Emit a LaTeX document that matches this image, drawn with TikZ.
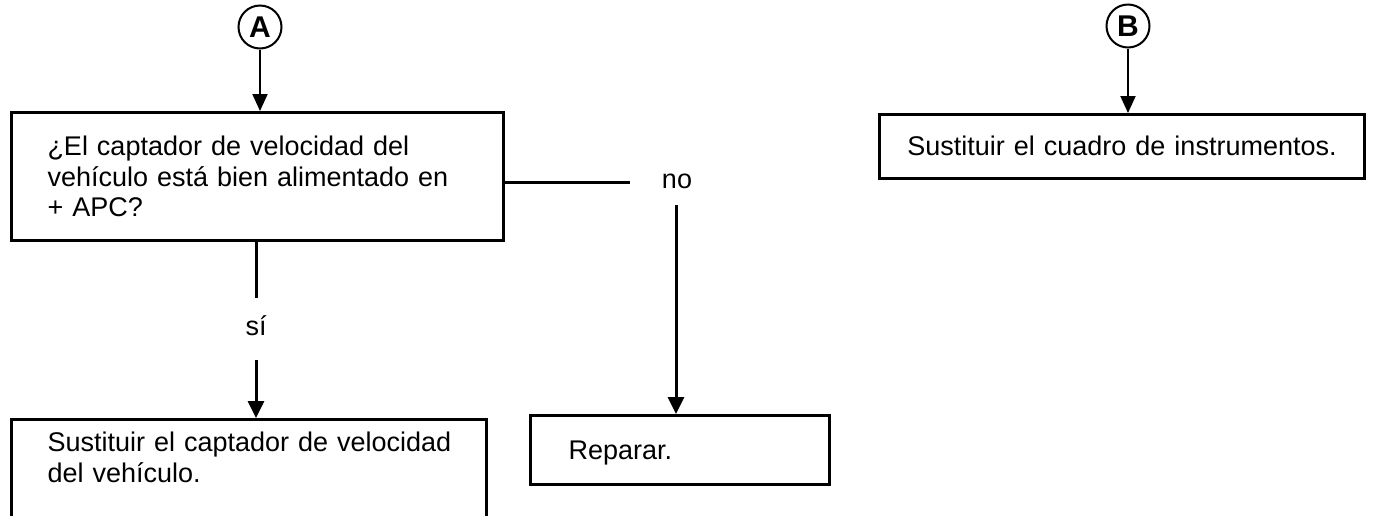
\documentclass[tikz,border=0pt]{standalone}
\usepackage{fontspec}
\setmainfont{Liberation Sans}
\usetikzlibrary{arrows.meta}
\begin{document}
\begin{tikzpicture}[x=1pt,y=-1pt,
  every node/.style={font=\fontsize{27}{30.5}\selectfont},
  box/.style={draw,line width=3pt,anchor=north west,inner ysep=0pt,inner xsep=0pt,align=left},
  conn/.style={line width=3pt},
  arr/.style={line width=3pt,-{Triangle[width=16pt,length=17pt]}},
  circarr/.style={line width=2pt,-{Triangle[width=15pt,length=17pt]}},
  circ/.style={draw,circle,line width=2pt,minimum size=43pt,inner sep=0pt,font=\fontsize{30}{30}\selectfont\bfseries},
  lab/.style={anchor=base,inner sep=0pt}]
\useasboundingbox (0,0) rectangle (1378,515);
% connector A
\node[circ] (A) at (260,27) {A};
\node[box,minimum width=492pt,text width=420pt,text height=43pt,text depth=85pt,inner xsep=36pt] (q) at (10,111)
  {\mbox{¿El captador de velocidad del}\\\mbox{vehículo está bien alimentado en}\\+ APC?};
\draw[circarr] (A.south) -- (q.north -| A);
% yes branch
\node[lab] (si) at (256,335) {sí};
\coordinate (siTop) at (256,298);
\coordinate (siBot) at (256,360);
\node[box,minimum width=475pt,text width=403pt,text height=32pt,text depth=120pt,inner xsep=36pt] (s1) at (10,418)
  {\mbox{Sustituir el captador de velocidad}\\\mbox{del vehículo.}};
\draw[conn] (q.south -| siTop) -- (siTop);
\draw[arr] (siBot) -- (s1.north -| siBot);
% no branch
\node[lab] (no) at (677,188) {no};
\coordinate (noEnd) at (630,182);
\coordinate (noBot) at (676,205);
\node[box,minimum width=299pt,text width=223pt,text height=44pt,text depth=25pt,inner xsep=38pt] (rep) at (529,414)
  {Reparar.};
\draw[conn] (q.east |- noEnd) -- (noEnd);
\draw[arr] (noBot) -- (rep.north -| noBot);
% connector B
\node[circ] (B) at (1128,26) {B};
\node[box,minimum width=485pt,text width=485pt,text height=41pt,text depth=23pt,align=center] (s2) at (878,113)
  {Sustituir el cuadro de instrumentos.};
\draw[circarr] (B.south) -- (s2.north -| B);
\end{tikzpicture}
\end{document}
